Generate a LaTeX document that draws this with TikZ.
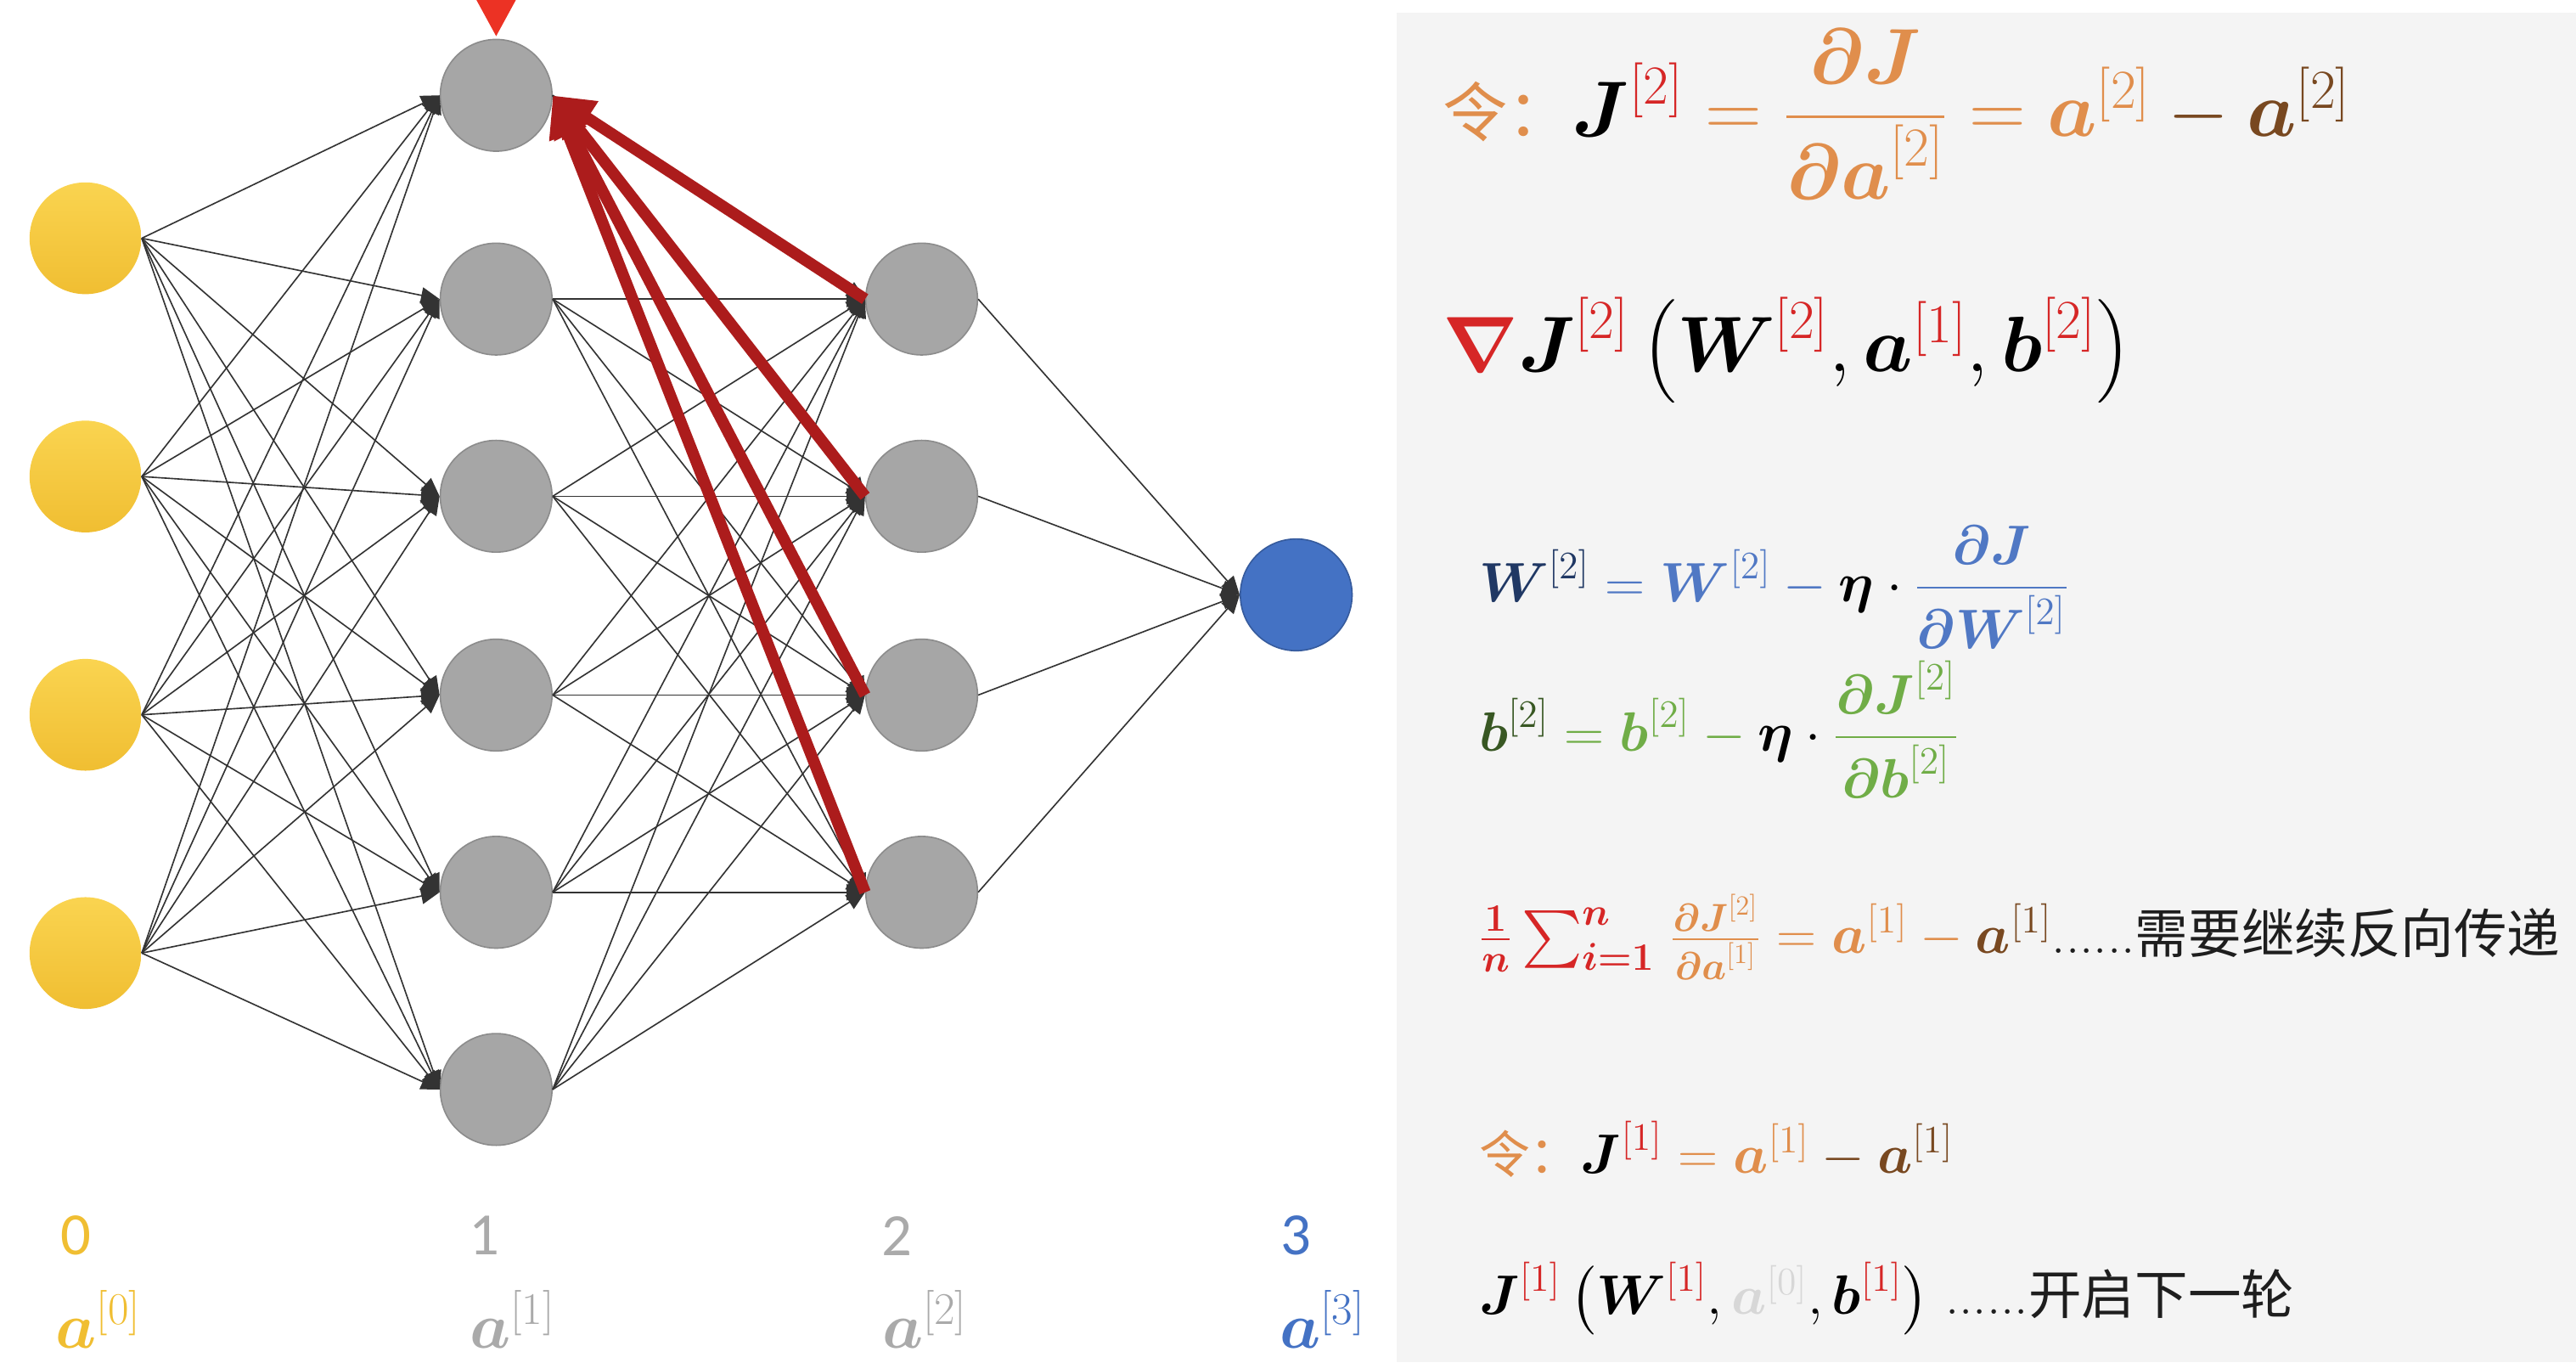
\RequirePackage{fix-cm}
\documentclass[tikz,border=0pt]{standalone}
\usepackage{amsmath}
\usepackage{fontspec}
\newfontfamily\cjk{Noto Sans CJK SC}
\newfontfamily\numfont{Carlito}
\usepackage{tikz}
\usetikzlibrary{positioning, arrows.meta, calc}

\definecolor{nodeyellow}{RGB}{240,190,50}
\definecolor{nodeyellowlight}{RGB}{250,212,80}
\definecolor{nodegray}{RGB}{166,166,166}
\definecolor{nodeblue}{RGB}{68,114,196}
\definecolor{backred}{RGB}{172,28,28}
\definecolor{markred}{RGB}{236,50,36}
\definecolor{supred}{RGB}{214,38,38}
\definecolor{eqorange}{RGB}{224,142,76}
\definecolor{eqbrown}{RGB}{120,72,32}
\definecolor{eqnavy}{RGB}{32,56,100}
\definecolor{eqblue}{RGB}{80,120,196}
\definecolor{eqdkgreen}{RGB}{56,87,35}
\definecolor{eqgreen}{RGB}{112,173,71}
\definecolor{labgray}{RGB}{170,170,170}
\definecolor{fadegray}{RGB}{215,215,215}
\definecolor{panelgray}{RGB}{244,244,244}
\definecolor{cjkblack}{RGB}{30,30,30}

\newcommand{\bsy}[1]{\boldsymbol{#1}}
\newcommand{\lay}[2]{^{\textcolor{#1}{[#2]}}}

\begin{document}
\begin{tikzpicture}[x=0.025cm, y=-0.025cm,
    neuron/.style={circle, minimum size=1.7cm, inner sep=0pt},
    inp/.style={neuron, top color=nodeyellowlight, bottom color=nodeyellow},
    hid/.style={neuron, fill=nodegray, draw=black!45, line width=0.6pt},
    outp/.style={neuron, fill=nodeblue, draw=nodeblue!80!black, line width=0.6pt},
    link/.style={-{Triangle[length=8pt, width=7pt]}, line width=0.6pt, draw=black!80},
    back/.style={-{Triangle[length=18pt, width=16pt]}, line width=5pt, draw=backred},
    eqbig/.style={anchor=base west, inner sep=0pt, font=\fontsize{34}{40}\selectfont},
    eqsmall/.style={anchor=base west, inner sep=0pt, font=\fontsize{24}{29}\selectfont},
    num/.style={font=\numfont\fontsize{26}{30}\selectfont},
    lab/.style={font=\fontsize{28}{32}\selectfont}]

  \useasboundingbox (0,0) rectangle (1568,829);
  \fill[panelgray] (850,8) rectangle (1568,829);

  % layers
  \foreach \i/\y in {1/145,2/290,3/435,4/580}
    \node[inp] (in-\i) at (52,\y) {};
  \foreach \i/\y in {1/58,2/182,3/302,4/423,5/543,6/663}
    \node[hid] (hA-\i) at (302,\y) {};
  \foreach \i/\y in {1/182,2/302,3/423,4/543}
    \node[hid] (hB-\i) at (561,\y) {};
  \node[outp] (out) at (789,362) {};

  % forward links
  \foreach \i in {1,...,4}
    \foreach \j in {1,...,6}
      \draw[link] (in-\i.east) -- (hA-\j.west);
  \foreach \i in {1,...,6}
    \foreach \j in {1,...,4}
      \draw[link] (hA-\i.east) -- (hB-\j.west);
  \foreach \i in {1,...,4}
    \draw[link] (hB-\i.east) -- (out.west);

  % backward
  \foreach \j in {1,...,4}
    \draw[back] (hB-\j.west) -- (hA-1.east);
  \fill[markred] (290,0) -- (314,0) -- (302,22) -- cycle;

  % layer labels
  \node[num, text=nodeyellow] (n0) at (46,752) {0};
  \node[num, text=labgray] (n1) at (295,752) {1};
  \node[num, text=labgray] (n2) at (546,752) {2};
  \node[num, text=nodeblue] (n3) at (789,752) {3};
  \node[lab] (a0) at (60,803) {$\textcolor{nodeyellow}{\bsy{a}^{[0]}}$};
  \node[lab] (a1) at (312,803) {$\textcolor{labgray}{\bsy{a}^{[1]}}$};
  \node[lab] (a2) at (563,803) {$\textcolor{labgray}{\bsy{a}^{[2]}}$};
  \node[lab] (a3) at (805,803) {$\textcolor{nodeblue}{\bsy{a}^{[3]}}$};

  % formulas
  \node[eqbig] (let2) at (878,83) {{\cjk\fontsize{28}{32}\selectfont\color{eqorange}令：}$\bsy{J}\lay{supred}{2}
    \mathrel{\textcolor{eqorange}{=}} \textcolor{eqorange}{\dfrac{\bsy{\partial J}}{\bsy{\partial a}^{[2]}}}
    \mathrel{\textcolor{eqorange}{=}} \textcolor{eqorange}{\bsy{a}^{[2]}}
    \mathbin{\textcolor{eqbrown}{-}} \textcolor{eqbrown}{\bsy{a}^{[2]}}$};
  \node[eqbig] (grad2) at (878,226) {$\textcolor{supred}{\bsy{\nabla}}\bsy{J}\lay{supred}{2}\,
    \big(\bsy{W}\lay{supred}{2},\bsy{a}\lay{supred}{1},\bsy{b}\lay{supred}{2}\big)$};
  \node[eqsmall] (updw) at (900,366) {$\textcolor{eqnavy}{\bsy{W}^{[2]}}
    \mathrel{\textcolor{eqblue}{=}} \textcolor{eqblue}{\bsy{W}^{[2]}}
    \mathbin{\textcolor{eqblue}{-}} \bsy{\eta}\cdot
    \textcolor{eqblue}{\dfrac{\bsy{\partial J}}{\bsy{\partial W}^{[2]}}}$};
  \node[eqsmall] (updb) at (900,457) {$\textcolor{eqdkgreen}{\bsy{b}^{[2]}}
    \mathrel{\textcolor{eqgreen}{=}} \textcolor{eqgreen}{\bsy{b}^{[2]}}
    \mathbin{\textcolor{eqgreen}{-}} \bsy{\eta}\cdot
    \textcolor{eqgreen}{\dfrac{\bsy{\partial J}^{[2]}}{\bsy{\partial b}^{[2]}}}$};
  \node[eqsmall] (sum1) at (900,580) {$\textcolor{supred}{\tfrac{\bsy{1}}{\bsy{n}}\sum_{\bsy{i=1}}^{\bsy{n}}}\;
    \textcolor{eqorange}{\tfrac{\bsy{\partial J}^{[2]}}{\bsy{\partial a}^{[1]}}}
    \mathrel{\textcolor{eqorange}{=}} \textcolor{eqorange}{\bsy{a}^{[1]}}
    \mathbin{\textcolor{eqorange}{-}} \textcolor{eqbrown}{\bsy{a}^{[1]}}$%
    {\color{cjkblack}......\cjk\fontsize{23}{27}\selectfont 需要继续反向传递}};
  \node[eqsmall] (let1) at (900,714) {{\cjk\fontsize{22}{26}\selectfont\color{eqorange}令：}$\bsy{J}\lay{supred}{1}
    \mathrel{\textcolor{eqorange}{=}} \textcolor{eqorange}{\bsy{a}^{[1]}}
    \mathbin{\textcolor{eqbrown}{-}} \textcolor{eqbrown}{\bsy{a}^{[1]}}$};
  \node[eqsmall] (grad1) at (900,800) {$\bsy{J}\lay{supred}{1}\,
    \big(\bsy{W}\lay{supred}{1},\textcolor{fadegray}{\bsy{a}^{[0]}},\bsy{b}\lay{supred}{1}\big)$
    {\color{cjkblack}......\cjk\fontsize{23}{27}\selectfont 开启下一轮}};
\end{tikzpicture}
\end{document}
